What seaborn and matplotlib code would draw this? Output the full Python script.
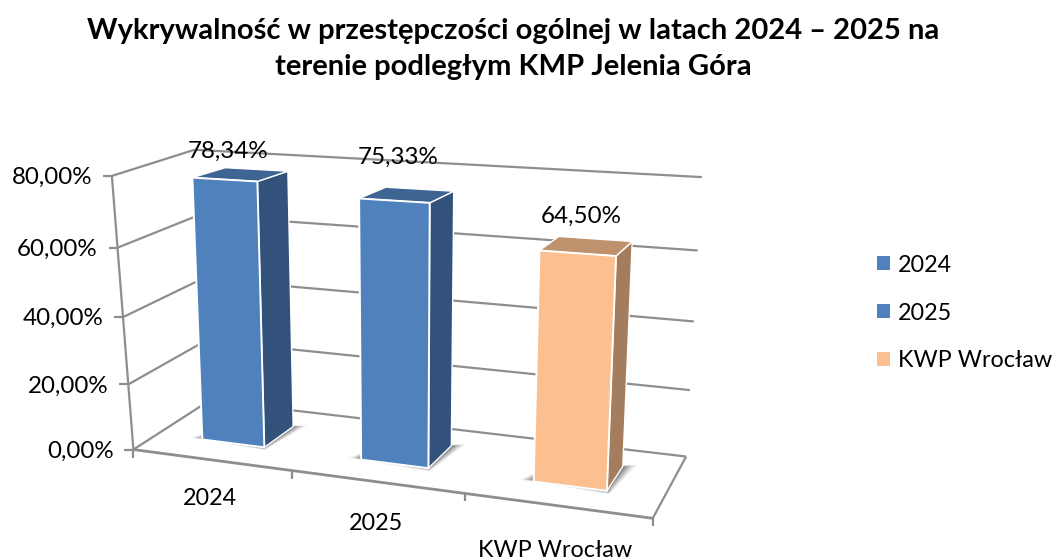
import numpy as np
import matplotlib
matplotlib.use("Agg")
import matplotlib.pyplot as plt
from matplotlib.patches import Polygon, Patch
from matplotlib.transforms import Transform
import seaborn as sns

# ---- data ----
categories = ["2024", "2025", "KWP Wrocław"]
values = [78.34, 75.33, 64.50]
y_ticks = [0, 20, 40, 60, 80]
title_lines = "Wykrywalność w przestępczości ogólnej w latach 2024 – 2025 na\nterenie podległym KMP Jelenia Góra"

# ---- styles ----
front_colors = ["#4F81BD", "#4F81BD", "#FCC090"]
side_colors = ["#32527B", "#32527B", "#A37D5D"]
top_colors = ["#3D6492", "#3D6492", "#BE926C"]
grid_color = "#8E8E8E"
FONT = "Lato"
BAR_W = 0.40
D0, D1 = 0.30, 0.72


# ---- perspective calibration: (category axis, depth, value) -> pixel ----
def fit_camera(world, pixel):
    A, b = [], []
    for (X, Y, Z), (px, py) in zip(world, pixel):
        A.append([X, Y, Z, 1, 0, 0, 0, 0, -px * X, -px * Y, -px * Z]); b.append(px)
        A.append([0, 0, 0, 0, X, Y, Z, 1, -py * X, -py * Y, -py * Z]); b.append(py)
    sol = np.linalg.lstsq(np.array(A, float), np.array(b, float), rcond=None)[0]
    return np.append(sol, 1).reshape(3, 4)


# frame of the plot (walls and floor)
M_frame = fit_camera(
    [(0, 0, 0), (3, 0, 0), (3, 1, 0), (0, 1, 0), (0, 0, 80), (0, 1, 80), (3, 1, 80),
     (0, 0, 60), (0, 0, 40), (0, 0, 20), (3, 1, 60), (3, 1, 40), (3, 1, 20)],
    [(131, 451), (652, 519), (686, 456), (213, 400), (115, 176), (190, 151), (703, 178),
     (119, 246), (123, 316), (127, 385), (698, 250), (693, 321), (690, 390)])

# the bars sit in a slightly different projection in the source picture
_l = [0.5 - BAR_W / 2 + i for i in range(3)]
_r = [0.5 + BAR_W / 2 + i for i in range(3)]
_v = values
M_bars = fit_camera(
    [(_l[0], D0, _v[0]), (_r[0], D0, _v[0]), (_l[0], D0, 0), (_r[0], D0, 0),
     (_r[0], D1, _v[0]), (_r[0], D1, 0), (_l[0], D1, _v[0]),
     (_l[1], D0, _v[1]), (_r[1], D0, _v[1]), (_l[1], D0, 0), (_r[1], D0, 0),
     (_r[1], D1, _v[1]), (_r[1], D1, 0), (_l[1], D1, _v[1]),
     (_l[2], D0, _v[2]), (_r[2], D0, _v[2]), (_l[2], D0, 0), (_r[2], D0, 0),
     (_r[2], D1, _v[2]), (_r[2], D1, 0), (_l[2], D1, _v[2])],
    [(192, 178), (258, 182), (203, 438), (264, 447), (287, 171), (293, 427), (225, 167),
     (360, 198), (429, 203), (361, 461), (428, 469), (453, 193), (452, 446), (387, 187),
     (540, 250), (616, 255), (533, 482), (607, 491), (632, 242), (623, 465), (559, 236)])


def project(M, u, d, h):
    q = M @ np.array([u, d, h, 1.0])
    return q[0] / q[2], q[1] / q[2]


def proj(u, d, h):
    return project(M_frame, u, d, h)


def bproj(u, d, h):
    return project(M_bars, u, d, h)


class FrontPlane(Transform):
    """Maps (bar position, value) on the bars' front plane to pixels."""
    input_dims = output_dims = 2

    def transform_non_affine(self, xy):
        xy = np.asarray(xy, float)
        return np.array([bproj(x + 0.5, D0, h) for x, h in xy])


sns.set_theme(style="white")
plt.rcParams["font.family"] = [FONT, "DejaVu Sans"]
fig = plt.figure(figsize=(10.53, 5.60), dpi=100)
ax = fig.add_axes([0, 0, 1, 1])

# front faces through seaborn
sns.barplot(x=categories, y=values, hue=categories, palette=front_colors,
            width=BAR_W, legend=False, ax=ax, saturation=1)
front = FrontPlane() + ax.transData
bars = list(ax.patches)
ax.set_xlim(0, 1053)
ax.set_ylim(560, 0)
ax.axis("off")
for p in bars:
    p.set_transform(front)
    p.set_edgecolor("white")
    p.set_linewidth(1.4)
    p.set_zorder(5)
    p.set_clip_on(False)


def line(a, b, lw=1.6, z=1):
    ax.plot(*zip(a, b), color=grid_color, lw=lw, zorder=z, solid_capstyle="butt", clip_on=False)


# walls and floor
for h in y_ticks:
    a, c, e = proj(0, 0, h), proj(0, 1, h), proj(3, 1, h)
    if h != 0:
        line(a, c); line(c, e)
    line((a[0] - 9, a[1]), a)
line(proj(0, 0, 0), proj(0, 0, 80))
line(proj(0, 0, 0), proj(0, 1, 0))
line(proj(0, 1, 0), proj(3, 1, 0))
line(proj(0, 0, 0), proj(3, 0, 0), lw=2)
line(proj(3, 0, 0), proj(3, 1, 0))
for u in range(4):
    x0, y0 = proj(u, 0, 0)
    line((x0, y0), (x0, y0 + 8))

# bars: shadow, right side and top faces
for i, (bar, v) in enumerate(zip(bars, values)):
    l = bar.get_x() + 0.5
    r = l + bar.get_width()
    for k, a in zip([0.075, 0.058, 0.042, 0.026, 0.012], [0.10, 0.15, 0.20, 0.26, 0.32]):
        foot = [bproj(l - k * 1.0, D0 - k * 0.35 + 0.03, 0), bproj(r + k * 0.3, D0 - k * 0.6, 0),
                bproj(r + k * 0.9, D1 + k * 0.7, 0), bproj(l, D1 - 0.2, 0)]
        ax.add_patch(Polygon(foot, closed=True, fc="#4A4A4A", ec="none", alpha=a, zorder=2))
    side = [bproj(r, D0, 0), bproj(r, D1, 0), bproj(r, D1, v), bproj(r, D0, v)]
    top = [bproj(l, D0, v), bproj(r, D0, v), bproj(r, D1, v), bproj(l, D1, v)]
    ax.add_patch(Polygon(side, closed=True, fc=side_colors[i], ec="white", lw=1.0, zorder=4))
    ax.add_patch(Polygon(top, closed=True, fc=top_colors[i], ec="white", lw=1.0, zorder=4))

# text
TICK_FS = 17.4
for h in y_ticks:
    x0, y0 = proj(0, 0, h)
    ax.text(x0 - 20, y0 + 1.5, f"{h:.2f}%".replace(".", ","), ha="right", va="center", fontsize=TICK_FS, color="black")
cat_offsets = [(-1, 39), (-1, 42), (-2, 45)]
for i, c in enumerate(categories):
    x0, y0 = proj(i + 0.5, 0, 0)
    ax.text(x0 + cat_offsets[i][0], y0 + cat_offsets[i][1], c, ha="center", va="center", fontsize=16.8, color="black")
val_offsets = [(-13, -23), (-9, -37), (-5, -30)]
for i, v in enumerate(values):
    x0, y0 = bproj(i + 0.5, (D0 + D1) / 2, v)
    ax.text(x0 + val_offsets[i][0], y0 + val_offsets[i][1], f"{v:.2f}%".replace(".", ","),
            ha="center", va="center", fontsize=TICK_FS, color="black", zorder=6)

ax.text(513, 49, title_lines, ha="center", va="center", fontsize=21, fontweight="bold",
        color="black", linespacing=1.46)

handles = [Patch(facecolor=c, edgecolor="none") for c in front_colors]
ax.legend(handles, categories, loc="center left", bbox_to_anchor=(877 / 1053, 1 - 313 / 560),
          frameon=False, fontsize=16.8, labelcolor="black", handlelength=0.55, handleheight=0.55,
          handletextpad=0.34, labelspacing=1.15, borderpad=0, borderaxespad=0)

fig.savefig("out.png", dpi=100)
